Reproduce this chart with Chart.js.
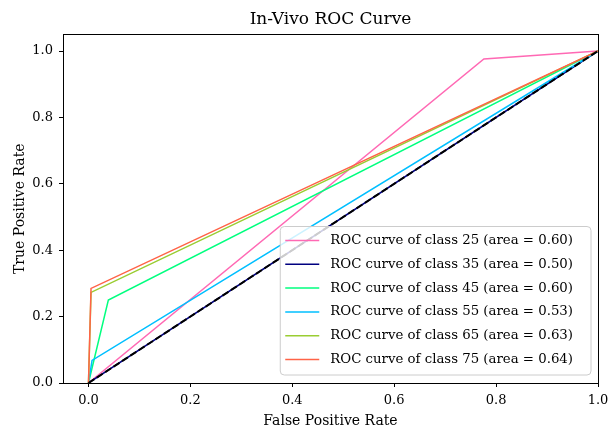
<!DOCTYPE html>
<html>
<head>
<meta charset="utf-8">
<script src="https://cdn.jsdelivr.net/npm/chart.js@4.4.1/dist/chart.umd.min.js"></script>
<style>
  html, body { margin: 0; padding: 0; background: #ffffff; }
  #wrap { width: 608px; height: 432px; position: relative; }
</style>
</head>
<body>
<div id="wrap"><canvas id="c" width="608" height="432"></canvas></div>
<script>
// ---- Data ----
const classNames = ['25', '35', '45', '55', '65', '75'];
const areas = ['0.60', '0.50', '0.60', '0.53', '0.63', '0.64'];
const seriesColors = ['#ff69b4', '#000080', '#00ff7f', '#00bfff', '#9acd32', '#ff6347'];
const fpr25 = [0, 0.776, 1];   const tpr25 = [0, 0.976, 1];
const fpr35 = [0, 1];          const tpr35 = [0, 1];
const fpr45 = [0, 0.039, 1];   const tpr45 = [0, 0.25, 1];
const fpr55 = [0, 0.007, 1];   const tpr55 = [0, 0.068, 1];
const fpr65 = [0, 0.005, 1];   const tpr65 = [0, 0.273, 1];
const fpr75 = [0, 0.005, 1];   const tpr75 = [0, 0.285, 1];
const chanceX = [0, 1];        const chanceY = [0, 1];
const xTicks = [0, 0.2, 0.4, 0.6, 0.8, 1.0];
const yTicks = [0, 0.2, 0.4, 0.6, 0.8, 1.0];

const FONT = "'DejaVu Serif', 'Liberation Serif', serif";
const fprs = [fpr25, fpr35, fpr45, fpr55, fpr65, fpr75];
const tprs = [tpr25, tpr35, tpr45, tpr55, tpr65, tpr75];

function pts(xs, ys) { return xs.map((x, i) => ({ x: x, y: ys[i] })); }

const datasets = classNames.map((name, i) => ({
  label: 'ROC curve of class ' + name + ' (area = ' + areas[i] + ')',
  data: pts(fprs[i], tprs[i]),
  borderColor: seriesColors[i],
  backgroundColor: seriesColors[i],
  borderWidth: 1.5,
  pointRadius: 0,
  fill: false,
  tension: 0,
  order: classNames.length - i
}));
datasets.push({
  label: '__chance',
  data: pts(chanceX, chanceY),
  borderColor: '#000000',
  borderWidth: 2,
  borderDash: [7, 3],
  pointRadius: 0,
  fill: false,
  order: 0
});

const framePlugin = {
  id: 'frame',
  afterDatasetsDraw(chart) {
    const a = chart.chartArea, ctx = chart.ctx;
    ctx.save();
    ctx.strokeStyle = '#000';
    ctx.lineWidth = 1;
    ctx.strokeRect(Math.round(a.left) + 0.5, Math.round(a.top) + 0.5,
                   Math.round(a.right - a.left), Math.round(a.bottom - a.top));
    ctx.restore();
  }
};

const legendPlugin = {
  id: 'innerLegend',
  afterDraw(chart) {
    const ctx = chart.ctx, a = chart.chartArea;
    const items = chart.data.datasets.filter(d => !d.label.startsWith('__'));
    ctx.save();
    ctx.font = '13.3px ' + FONT;
    let maxW = 0;
    items.forEach(d => { maxW = Math.max(maxW, ctx.measureText(d.label).width); });
    const rowH = 23.8, padX = 5, handleW = 34, gap = 11, padTop = 14, padBot = 15.5;
    const w = padX + handleW + gap + maxW + 18;
    const h = padTop + rowH * (items.length - 1) + padBot;
    const x0 = a.right - 7 - w, y0 = a.bottom - 8 - h;
    ctx.beginPath();
    const r = 4;
    ctx.moveTo(x0 + r, y0);
    ctx.lineTo(x0 + w - r, y0); ctx.quadraticCurveTo(x0 + w, y0, x0 + w, y0 + r);
    ctx.lineTo(x0 + w, y0 + h - r); ctx.quadraticCurveTo(x0 + w, y0 + h, x0 + w - r, y0 + h);
    ctx.lineTo(x0 + r, y0 + h); ctx.quadraticCurveTo(x0, y0 + h, x0, y0 + h - r);
    ctx.lineTo(x0, y0 + r); ctx.quadraticCurveTo(x0, y0, x0 + r, y0);
    ctx.closePath();
    ctx.fillStyle = 'rgba(255,255,255,0.8)';
    ctx.fill();
    ctx.strokeStyle = '#cccccc';
    ctx.lineWidth = 1;
    ctx.stroke();
    items.forEach((d, i) => {
      const cy = y0 + padTop + rowH * i;
      ctx.beginPath();
      ctx.strokeStyle = d.borderColor;
      ctx.lineWidth = 1.5;
      ctx.moveTo(x0 + padX, cy);
      ctx.lineTo(x0 + padX + handleW, cy);
      ctx.stroke();
      ctx.fillStyle = '#000';
      ctx.textBaseline = 'middle';
      ctx.textAlign = 'left';
      ctx.fillText(d.label, x0 + padX + handleW + gap, cy);
    });
    ctx.restore();
  }
};

function noSidePad(scale) { scale.paddingLeft = 0; scale.paddingRight = 0; }

new Chart(document.getElementById('c'), {
  type: 'line',
  data: { datasets: datasets },
  plugins: [framePlugin, legendPlugin],
  options: {
    responsive: false,
    animation: false,
    layout: { padding: { left: 0, right: 10, top: 0, bottom: 0 } },
    plugins: {
      legend: { display: false },
      tooltip: { enabled: false },
      title: {
        display: true,
        text: 'In-Vivo ROC Curve',
        fullSize: false,
        color: '#000',
        font: { family: FONT, size: 17, weight: 'normal' },
        padding: { top: 9, bottom: 5 }
      }
    },
    scales: {
      x: {
        type: 'linear',
        min: -0.05,
        max: 1.0,
        afterBuildTicks(scale) { scale.ticks = xTicks.map(v => ({ value: v })); },
        afterFit(scale) { scale.height = 49; noSidePad(scale); },
        ticks: {
          color: '#000',
          font: { family: FONT, size: 13 },
          padding: 6,
          maxRotation: 0,
          callback: v => Number(v).toFixed(1)
        },
        grid: { drawOnChartArea: false, drawTicks: true, tickLength: 4, color: '#000', lineWidth: 1 },
        border: { display: true, color: '#000', width: 1 },
        title: {
          display: true,
          text: 'False Positive Rate',
          color: '#000',
          font: { family: FONT, size: 14 },
          padding: { top: 0, bottom: 2 }
        }
      },
      y: {
        type: 'linear',
        min: 0,
        max: 1.05,
        afterBuildTicks(scale) { scale.ticks = yTicks.map(v => ({ value: v })); },
        afterFit(scale) { scale.width = 63; scale.paddingTop = 0; scale.paddingBottom = 0; },
        ticks: {
          color: '#000',
          font: { family: FONT, size: 13 },
          padding: 6,
          callback: v => Number(v).toFixed(1)
        },
        grid: { drawOnChartArea: false, drawTicks: true, tickLength: 4, color: '#000', lineWidth: 1 },
        border: { display: true, color: '#000', width: 1 },
        title: {
          display: true,
          text: 'True Positive Rate',
          color: '#000',
          font: { family: FONT, size: 14 },
          padding: { top: 12, bottom: 0 }
        }
      }
    }
  }
});
</script>
</body>
</html>
